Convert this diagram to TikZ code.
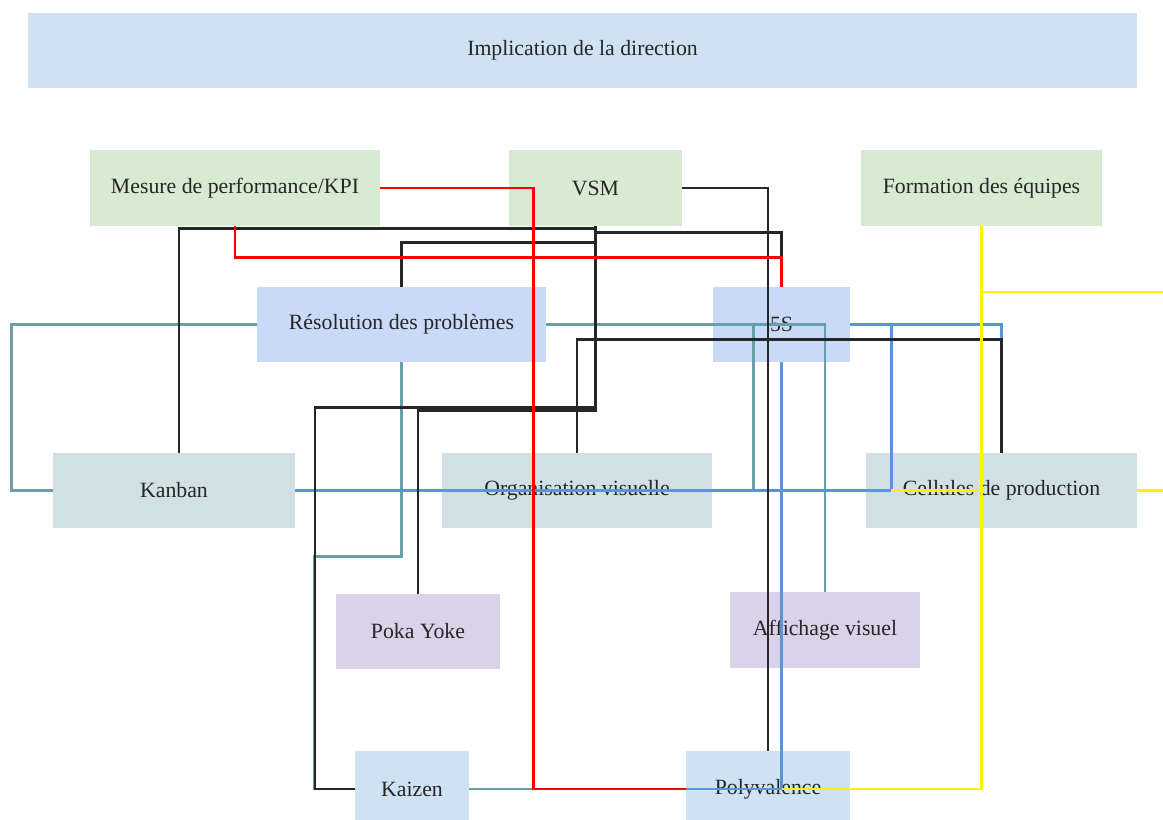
\documentclass[tikz,border=0pt]{standalone}
\usepackage{fontspec}
\setmainfont{Liberation Serif}

\definecolor{dirblue}{HTML}{CFE2F3}
\definecolor{kpigreen}{HTML}{D9EAD3}
\definecolor{resblue}{HTML}{C9DAF8}
\definecolor{kangray}{HTML}{D0E0E3}
\definecolor{pokaviolet}{HTML}{D9D2E9}
\definecolor{tealline}{HTML}{6A9FAA}
\definecolor{blueline}{HTML}{5A96D7}
\definecolor{textgray}{HTML}{262626}

\begin{document}
\begin{tikzpicture}[x=0.02cm, y=-0.02cm,
    box/.style={fill=#1, text=textgray, inner sep=0pt, font=\fontsize{12.4}{14}\selectfont},
    box/.default=kangray,
    link/.style={line width=1.4pt}]
	\useasboundingbox (0,0) rectangle (1163,820);
	\clip (0,0) rectangle (1163,820);

	% boxes
	\node[box=dirblue, minimum width=22.18cm, minimum height=1.5cm] (dir) at (582.5,50.5) {Implication de la direction};
	\node[box=kpigreen, minimum width=5.8cm, minimum height=1.52cm] (kpi) at (235,188) {Mesure de performance/KPI};
	\node[box=kpigreen, minimum width=3.46cm, minimum height=1.52cm] (vsm) at (595.5,188) {VSM};
	\node[box=kpigreen, minimum width=4.82cm, minimum height=1.52cm] (form) at (981.5,188) {Formation des équipes};
	\node[box=resblue, minimum width=5.78cm, minimum height=1.5cm] (reso) at (401.5,324.5) {Résolution des problèmes};
	\node[box=resblue, minimum width=2.74cm, minimum height=1.5cm] (fives) at (781.5,324.5) {5S};
	\node[box, minimum width=4.84cm, minimum height=1.5cm] (kanban) at (174,490.5) {Kanban};
	\node[box, minimum width=5.4cm, minimum height=1.5cm] (orgvis) at (577,490.5) {Organisation visuelle};
	\node[box, minimum width=5.42cm, minimum height=1.5cm] (cellules) at (1001.5,490.5) {Cellules de production};
	\node[box=pokaviolet, minimum width=3.28cm, minimum height=1.5cm] (poka) at (418,631.5) {Poka Yoke};
	\node[box=pokaviolet, minimum width=3.8cm, minimum height=1.52cm] (affichage) at (825,630) {Affichage visuel};
	\node[box=dirblue, minimum width=2.28cm, minimum height=1.52cm] (kaizen) at (412,789) {Kaizen};
	\node[box=dirblue, minimum width=3.28cm, minimum height=1.52cm] (poly) at (768,789) {Polyvalence};

	% teal links
	\draw[link, tealline] (reso.west) -- ++(-245,0) |- (kanban.west);
	\draw[link, tealline] (reso.east) -- ++(207,0) |- (orgvis.east);
	\draw[link, tealline] (reso.east) -| (affichage.north);
	\draw[link, tealline] (reso.south) -- ++(0,194) -- ++(-87,0) |- (kaizen.west);
	\draw[link, tealline] (kaizen.east) -- (poly.west);

	% blue links
	\draw[link, blueline] (kanban.east) -- ++(596,0) coordinate (bend) |- (fives.east);
	\draw[link, blueline] (fives.east) -| (cellules.north);
	\draw[link, blueline] (fives.south) |- (poly.west);

	% black links
	\draw[link, black!85] (vsm.south) -- ++(0,2) -| ([xshift=0.1cm]kanban.north);
	\draw[link, black!85] (vsm.south) -- ++(0,6) -| (fives.north);
	\draw[link, black!85] (reso.north) -- ++(0,-44) -| (vsm.south);
	\draw[link, black!85] (poka.north) -- ++(0,-183) -| (vsm.south);
	\draw[link, black!85] (vsm.south) -- ++(0,181) -- ++(-280.5,0) |- (kaizen.west);
	\draw[link, black!85] (vsm.east) -| (poly.north);
	\draw[link, black!85] (orgvis.north) -- ++(0,-113) -| (cellules.north);

	% red links
	\draw[link, red] (kpi.east) -- ++(153,0) |- (poly.west);
	\draw[link, red] (kpi.south) -- ++(0,31) -| (fives.north);

	% yellow links
	\draw[link, yellow] (form.south) |- (bend);
	\draw[link, yellow] (form.south) |- (fives.south |- poly.west);
	\draw[link, yellow] (form.south) -- ++(0,65.5) -- ++(200,0) |- (cellules.east);
\end{tikzpicture}
\end{document}
